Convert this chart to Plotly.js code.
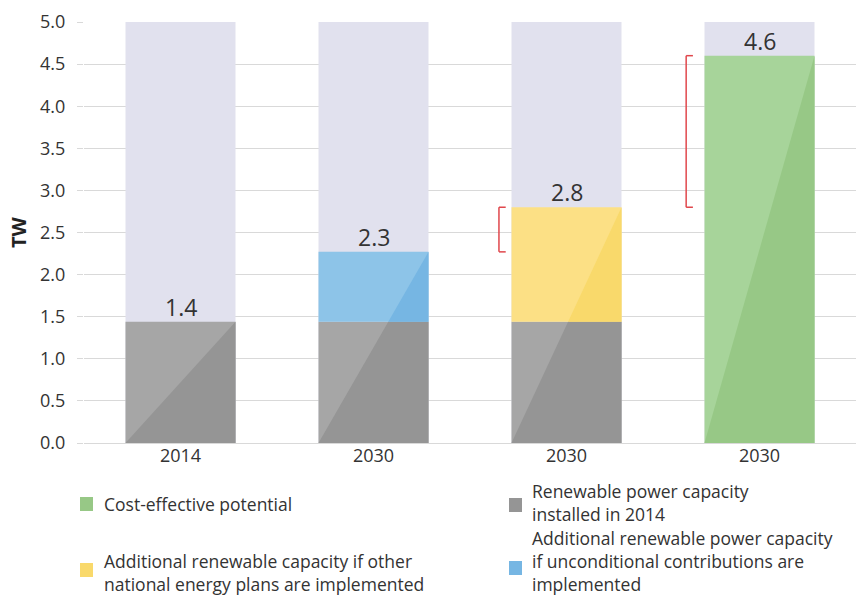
<!DOCTYPE html>
<html>
<head>
<meta charset="utf-8">
<script src="https://cdn.plot.ly/plotly-3.0.1.min.js"></script>
<style>html,body{margin:0;padding:0;background:#fff;}#chart{width:856px;height:596px;}</style>
</head>
<body>
<div id="chart"></div>
<script>
// ---- Data ----
const categories = [0, 1, 2, 3];
const tickLabels = ['2014', '2030', '2030', '2030'];
const backgroundMax = [5.0, 5.0, 5.0, 5.0];
const installed2014 = [1.44, 1.44, 1.44, 0];
const unconditional = [0, 0.83, 0, 0];
const otherPlans = [0, 0, 1.36, 0];
const costEffective = [0, 0, 0, 4.6];
const totalLabels = ['1.4', '2.3', '2.8', '4.6'];
const legendNames = {
  green: ['Cost-effective potential'],
  gray: ['Renewable power capacity', 'installed in 2014'],
  yellow: ['Additional renewable capacity if other', 'national energy plans are implemented'],
  blue: ['Additional renewable power capacity', 'if unconditional contributions are', 'implemented']
};

// ---- Styles ----
const FONT = '"Open Sans", Roboto, sans-serif';
const TXT = '#333333';
const C = {
  bg: '#e1e1ee',
  gray: ['#a6a6a6', '#959595'],
  blue: ['#8dc4e8', '#76b6e3'],
  yellow: ['#fce085', '#f9d96b'],
  green: ['#a7d49a', '#97c886']
};
const BW = 0.57, HW = BW / 2;

const L = 84, R = 0, T = 22, B = 153, WIDTH = 856, HEIGHT = 596;
const PW = WIDTH - L - R, PH = HEIGHT - T - B;
const px2x = p => (p - L) / PW;
const py2y = p => (HEIGHT - B - p) / PH;

function barTrace(y, base, color, name) {
  return { type: 'bar', x: categories, y: y, base: base, width: BW, name: name,
    marker: { color: color, line: { width: 0 } }, hoverinfo: 'skip', showlegend: false };
}
const zeros = categories.map(() => 0);
const traces = [
  barTrace(backgroundMax, zeros, C.bg, 'bg'),
  barTrace(installed2014, zeros, C.gray[0], 'installed'),
  barTrace(unconditional, installed2014, C.blue[0], 'unconditional'),
  barTrace(otherPlans, installed2014, C.yellow[0], 'other'),
  barTrace(costEffective, zeros, C.green[0], 'cost')
];

const totals = categories.map((c, i) => installed2014[i] + unconditional[i] + otherPlans[i] + costEffective[i]);
const shapes = [];
categories.forEach((c, i) => {
  const tot = totals[i];
  const segs = [];
  let acc = 0;
  [[installed2014, C.gray[1]], [unconditional, C.blue[1]], [otherPlans, C.yellow[1]], [costEffective, C.green[1]]].forEach(([arr, col]) => {
    if (arr[i] > 0) { segs.push([acc, acc + arr[i], col]); acc += arr[i]; }
  });
  const xd = y => c - HW + BW * y / tot;
  segs.forEach(([a, b, col]) => {
    const x1 = xd(a), x3 = xd(b), x2 = c + HW;
    shapes.push({ type: 'path', xref: 'x', yref: 'y', layer: 'above',
      path: `M ${x1},${a} L ${x2},${a} L ${x2},${b} L ${x3},${b} Z`,
      fillcolor: col, line: { width: 0 } });
  });
});

// brackets (derived from data)
const brackets = [
  { x: 2, lo: installed2014[1] + unconditional[1], hi: totals[2], off: 0.35 },
  { x: 3, lo: totals[2], hi: totals[3], off: 0.38 }
];
const RED = '#e0474c';
brackets.forEach(bk => {
  const xb = bk.x - bk.off;
  const line = { color: RED, width: 1.5 };
  shapes.push({ type: 'line', xref: 'x', yref: 'y', x0: xb, x1: xb, y0: bk.lo, y1: bk.hi, line });
  shapes.push({ type: 'line', xref: 'x', yref: 'y', x0: xb, x1: xb + 0.035, y0: bk.lo, y1: bk.lo, line });
  shapes.push({ type: 'line', xref: 'x', yref: 'y', x0: xb, x1: xb + 0.035, y0: bk.hi, y1: bk.hi, line });
});

// value labels
const annotations = categories.map((c, i) => ({
  x: c, y: totals[i], xref: 'x', yref: 'y', text: totalLabels[i], showarrow: false,
  yanchor: 'bottom', yshift: -3, font: { family: FONT, size: 23, color: TXT }
}));

// legend (custom)
const legendItems = [
  { key: 'green', sq: [80, 497], cy: 504, tx: 103 },
  { key: 'gray', sq: [509, 498], cy: 502, tx: 531 },
  { key: 'yellow', sq: [80, 563], cy: 572, tx: 103 },
  { key: 'blue', sq: [509, 561], cy: 561, tx: 531 }
];
const legendColor = { green: C.green[1], gray: C.gray[1], yellow: C.yellow[1], blue: C.blue[1] };
legendItems.forEach(it => {
  shapes.push({ type: 'rect', xref: 'paper', yref: 'paper',
    x0: px2x(it.sq[0]), x1: px2x(it.sq[0] + 13), y0: py2y(it.sq[1]), y1: py2y(it.sq[1] + 14),
    fillcolor: legendColor[it.key], line: { width: 0 } });
  annotations.push({ xref: 'paper', yref: 'paper', x: px2x(it.tx), y: py2y(it.cy),
    xanchor: 'left', yanchor: 'middle', showarrow: false, text: legendNames[it.key].join('<br>'), align: 'left',
    borderpad: 0, font: { family: FONT, size: 17.5, color: TXT } });
});

const layout = {
  width: WIDTH, height: HEIGHT,
  margin: { l: L, r: R, t: T, b: B },
  paper_bgcolor: '#ffffff', plot_bgcolor: '#ffffff',
  barmode: 'overlay', showlegend: false,
  font: { family: FONT, color: TXT },
  xaxis: { range: [-0.5, 3.5], tickvals: categories, ticktext: tickLabels, showgrid: false,
    zeroline: false, showline: false, ticks: '', tickfont: { family: FONT, size: 18, color: TXT }, fixedrange: true },
  yaxis: { range: [0, 5], dtick: 0.5, tickformat: '.1f', showgrid: true, gridcolor: '#d9d9d9', gridwidth: 1,
    zeroline: true, zerolinecolor: '#d9d9d9', zerolinewidth: 1,
    ticks: 'outside', ticklen: 6, tickcolor: '#d9d9d9', ticklabelstandoff: 8,
    tickfont: { family: FONT, size: 18, color: TXT },
    title: { text: '<b>TW</b>', font: { family: FONT, size: 20, color: '#222' }, standoff: 8 }, fixedrange: true },
  shapes: shapes,
  annotations: annotations
};

Plotly.newPlot('chart', traces, layout, { displayModeBar: false, staticPlot: true });
</script>
</body>
</html>
